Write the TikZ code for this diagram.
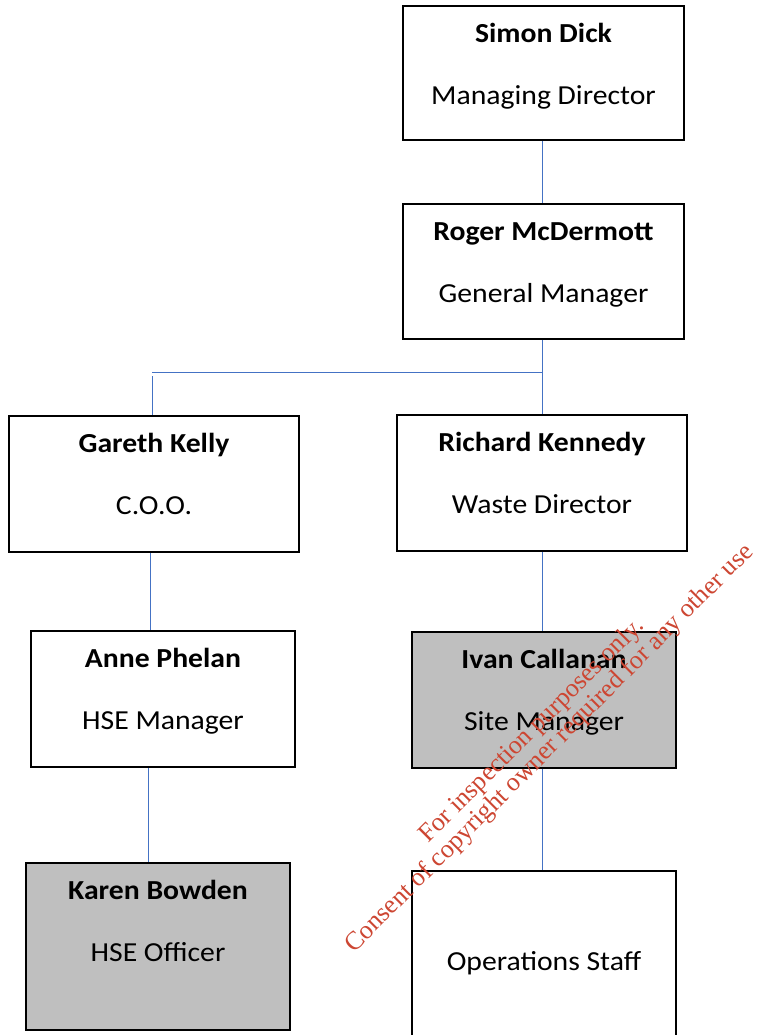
\documentclass[tikz,border=0pt]{standalone}
\usepackage{fontspec}
\setmainfont{Carlito}[FakeStretch=1.08]
\newfontfamily\wmfont{Liberation Serif}
\definecolor{conn}{RGB}{68,114,196}
\definecolor{boxgray}{RGB}{191,191,191}
\definecolor{wmred}{RGB}{205,70,50}
\begin{document}
\begin{tikzpicture}[x=1pt,y=-1pt,
  orgbox/.style={draw=black,line width=1.8pt,inner sep=0pt,rectangle},
  graybox/.style={orgbox,fill=boxgray},
  nametext/.style={anchor=base,inner sep=0pt,font=\fontsize{27.5}{30}\selectfont\bfseries},
  roletext/.style={anchor=base,inner sep=0pt,font=\fontsize{27.5}{30}\selectfont},
  link/.style={draw=conn,line width=1pt},
  wm/.style={text=wmred,align=center,rotate=45,inner sep=0pt,font=\wmfont\fontsize{26}{25}\selectfont}]
\clip (0,0) rectangle (760,1035);
\fill[white] (0,0) rectangle (760,1035);
% boxes
\node[orgbox,minimum width=281pt,minimum height=134pt] (sd) at (543.5,73) {};
\node[orgbox,minimum width=281pt,minimum height=135pt] (rm) at (543.5,271.5) {};
\node[orgbox,minimum width=290pt,minimum height=136pt] (gk) at (154,484) {};
\node[orgbox,minimum width=290pt,minimum height=136pt] (rk) at (542,483) {};
\node[orgbox,minimum width=264pt,minimum height=136pt] (ap) at (163,699) {};
\node[graybox,minimum width=264pt,minimum height=136pt] (ic) at (544,700) {};
\node[graybox,minimum width=264pt,minimum height=167pt] (kb) at (158,946.5) {};
\node[orgbox,minimum width=264pt,minimum height=199pt] (os) at (544,970.5) {};
% texts
\node[nametext] (sdn) at ([yshift=-37pt]sd.north) {Simon Dick};
\node[roletext] (sdr) at ([yshift=-99pt]sd.north) {Managing Director};
\node[nametext] (rmn) at ([yshift=-37pt]rm.north) {Roger McDermott};
\node[roletext] (rmr) at ([yshift=-99pt]rm.north) {General Manager};
\node[nametext] (gkn) at ([yshift=-37pt]gk.north) {Gareth Kelly};
\node[roletext] (gkr) at ([yshift=-99pt]gk.north) {C.O.O.};
\node[nametext] (rkn) at ([yshift=-37pt]rk.north) {Richard Kennedy};
\node[roletext] (rkr) at ([yshift=-99pt]rk.north) {Waste Director};
\node[nametext] (apn) at ([yshift=-37pt]ap.north) {Anne Phelan};
\node[roletext] (apr) at ([yshift=-99pt]ap.north) {HSE Manager};
\node[nametext] (icn) at ([yshift=-37pt]ic.north) {Ivan Callanan};
\node[roletext] (icr) at ([yshift=-99pt]ic.north) {Site Manager};
\node[nametext] (kbn) at ([yshift=-37pt]kb.north) {Karen Bowden};
\node[roletext] (kbr) at ([yshift=-99pt]kb.north) {HSE Officer};
\node[roletext] (osr) at ([yshift=-100pt]os.north) {Operations Staff};
% connectors
\coordinate (j) at (542,372);
\coordinate (jl) at (152,372);
\draw[link] ([xshift=-1.5pt]sd.south) -- ([xshift=-1.5pt]rm.north);
\draw[link] ([xshift=-1.5pt]rm.south) -- (rk.north);
\draw[link] (j) -- (jl);
\draw[link] ([yshift=-4pt]jl) -- (jl |- gk.north);
\draw[link] ([xshift=-4pt]gk.south) -- ([xshift=-4pt]gk.south |- ap.north);
\draw[link] ([xshift=-15pt]ap.south) -- ([xshift=-15pt]ap.south |- kb.north);
\draw[link] (rk.south) -- (rk.south |- ic.north);
\draw[link] ([xshift=-2pt]ic.south) -- ([xshift=-2pt]os.north);
% watermark
\node[wm] (wmk) at (541,740) {For inspection purposes only.\\Consent of copyright owner required for any other use};
\end{tikzpicture}
\end{document}
